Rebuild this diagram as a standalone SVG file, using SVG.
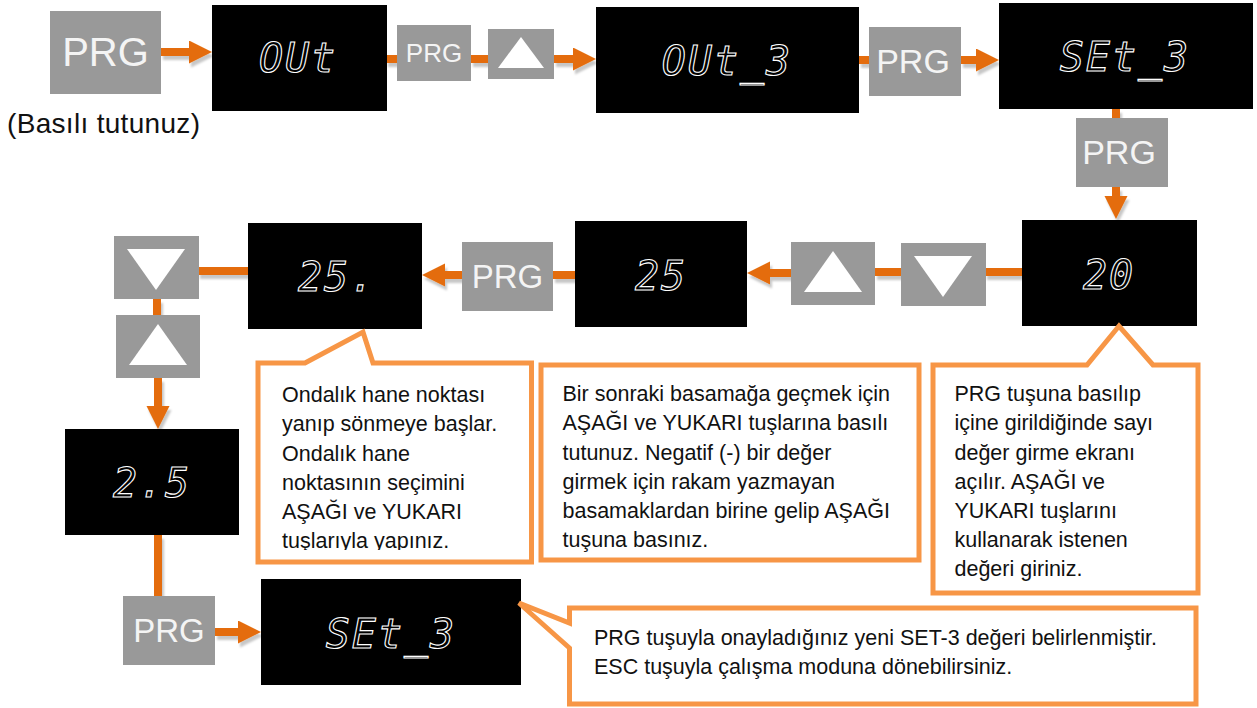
<svg xmlns="http://www.w3.org/2000/svg" width="1257" height="708" viewBox="0 0 1257 708">
<style>
.btn{fill:#999999}
.prg{font-family:"Liberation Sans",Arial,sans-serif;fill:#f4f4f4;text-anchor:middle}
.tri{fill:#ffffff}
.disp{fill:#000000}
.seg{font-family:"DejaVu Sans Mono",monospace;font-style:oblique;font-size:40px;fill:none;stroke:#ffffff;stroke-width:1.1;text-anchor:middle;letter-spacing:2px}
.con{fill:none;stroke:#E46C0A;stroke-width:8}
.call{fill:#ffffff;stroke:#F79646;stroke-width:5;stroke-linejoin:miter}
.ct{font-family:"Liberation Sans",Arial,sans-serif;font-size:21.5px;fill:#111111}
</style>
<defs>
<marker id="ah" markerUnits="userSpaceOnUse" markerWidth="24" markerHeight="24" refX="0" refY="11.5" orient="auto">
<path d="M0,0 L23,11.5 L0,23 Z" fill="#E46C0A"/>
</marker>
<filter id="sh" x="-20%" y="-20%" width="140%" height="160%">
<feDropShadow dx="2" dy="4" stdDeviation="1.2" flood-color="#000000" flood-opacity="0.22"/>
</filter>
<clipPath id="clip1"><rect x="258" y="363" width="274" height="187"/></clipPath>
</defs>

<g id="connectors" filter="url(#sh)">
<path class="con" d="M161,52 H189" marker-end="url(#ah)"/>
<path class="con" d="M386,59 H397"/>
<path class="con" d="M471,59 H488"/>
<path class="con" d="M554,59 H573" marker-end="url(#ah)"/>
<path class="con" d="M859,60 H869"/>
<path class="con" d="M961,60 H976" marker-end="url(#ah)"/>
<path class="con" d="M1116,109 V118"/>
<path class="con" d="M1116,187 V196" marker-end="url(#ah)"/>
<path class="con" d="M1022,272 H985"/>
<path class="con" d="M901,272 H875"/>
<path class="con" d="M791,273 H770" marker-end="url(#ah)"/>
<path class="con" d="M575,275 H553"/>
<path class="con" d="M462,275 H445" marker-end="url(#ah)"/>
<path class="con" d="M248,271 H198"/>
<path class="con" d="M157,299 V315"/>
<path class="con" d="M158,378 V406" marker-end="url(#ah)"/>
<path class="con" d="M158,535 V596"/>
<path class="con" d="M215,632 H238" marker-end="url(#ah)"/>
</g>

<g id="prg1"><rect class="btn" x="50" y="11" width="111" height="83"/><text class="prg" x="105.5" y="66" font-size="40">PRG</text></g>
<text id="hold" x="7" y="133" font-family="Liberation Sans,Arial,sans-serif" font-size="28" textLength="193" fill="#111111">(Basılı tutunuz)</text>
<g id="d-out"><rect class="disp" x="212" y="5" width="175" height="106"/><text class="seg" x="298" y="72">OUt</text></g>
<g id="prg2"><rect class="btn" x="397" y="25" width="74" height="56"/><text class="prg" x="434" y="62" font-size="26">PRG</text></g>
<g id="up1"><rect class="btn" x="488" y="29" width="66" height="50"/><polygon class="tri" points="521,37 544,68 498,68"/></g>
<g id="d-out3"><rect class="disp" x="596" y="7" width="263" height="106"/><text class="seg" x="727" y="75">OUt_3</text></g>
<g id="prg3"><rect class="btn" x="869" y="27" width="92" height="69"/><text class="prg" x="913" y="73" font-size="34">PRG</text></g>
<g id="d-set3a"><rect class="disp" x="999" y="3" width="254" height="106"/><text class="seg" x="1125" y="71">SEt_3</text></g>
<g id="prg4"><rect class="btn" x="1076" y="118" width="92" height="69"/><text class="prg" x="1119" y="163.5" font-size="34">PRG</text></g>
<g id="d-20"><rect class="disp" x="1022" y="220" width="175" height="106"/><text class="seg" x="1109" y="289">20</text></g>
<g id="down2"><rect class="btn" x="901" y="243" width="85" height="63"/><polygon class="tri" points="914,256 972,256 943,297"/></g>
<g id="up2"><rect class="btn" x="791" y="242" width="84" height="63"/><polygon class="tri" points="804,292 862,292 833,251"/></g>
<g id="d-25"><rect class="disp" x="575" y="221" width="172" height="106"/><text class="seg" x="661" y="290">25</text></g>
<g id="prg5"><rect class="btn" x="462" y="242" width="91" height="69"/><text class="prg" x="507.5" y="288" font-size="33">PRG</text></g>
<g id="d-25dot"><rect class="disp" x="248" y="223" width="174" height="106"/><text class="seg" x="337" y="291">25.</text></g>
<g id="down3"><rect class="btn" x="114" y="236" width="85" height="63"/><polygon class="tri" points="127,249 185,249 156,290"/></g>
<g id="up3"><rect class="btn" x="116" y="315" width="84" height="63"/><polygon class="tri" points="129,365 187,365 158,324"/></g>
<g id="d-2dot5"><rect class="disp" x="65" y="429" width="174" height="106"/><text class="seg" x="152" y="497">2.5</text></g>
<g id="prg6"><rect class="btn" x="123" y="596" width="92" height="69"/><text class="prg" x="169" y="642" font-size="33">PRG</text></g>
<g id="d-set3b"><rect class="disp" x="261" y="579" width="260" height="106"/><text class="seg" x="391" y="648">SEt_3</text></g>

<g id="callout1">
<path class="call" d="M258,363 H305 L363,332 L373,363 H531.5 V562 H258 Z"/>
<g clip-path="url(#clip1)">
<text class="ct" x="282" y="402">Ondalık hane noktası</text>
<text class="ct" x="282" y="431">yanıp sönmeye başlar.</text>
<text class="ct" x="282" y="460.5">Ondalık hane</text>
<text class="ct" x="282" y="490">noktasının seçimini</text>
<text class="ct" x="282" y="519">AŞAĞI ve YUKARI</text>
<text class="ct" x="282" y="548">tuşlarıyla yapınız.</text>
</g>
</g>
<g id="callout2">
<rect class="call" x="541" y="365" width="378" height="195"/>
<text class="ct" x="562.5" y="401">Bir sonraki basamağa geçmek için</text>
<text class="ct" x="562.5" y="430">AŞAĞI ve YUKARI tuşlarına basılı</text>
<text class="ct" x="562.5" y="459.5">tutunuz. Negatif (-) bir değer</text>
<text class="ct" x="562.5" y="489">girmek için rakam yazmayan</text>
<text class="ct" x="562.5" y="518">basamaklardan birine gelip AŞAĞI</text>
<text class="ct" x="562.5" y="547">tuşuna basınız.</text>
</g>
<g id="callout3">
<path class="call" d="M933,365 H1087 L1119,326 L1153,365 H1198 V593 H933 Z"/>
<text class="ct" x="954.5" y="401">PRG tuşuna basılıp</text>
<text class="ct" x="954.5" y="430">içine girildiğinde sayı</text>
<text class="ct" x="954.5" y="459.5">değer girme ekranı</text>
<text class="ct" x="954.5" y="489">açılır. AŞAĞI ve</text>
<text class="ct" x="954.5" y="518">YUKARI tuşlarını</text>
<text class="ct" x="954.5" y="547">kullanarak istenen</text>
<text class="ct" x="954.5" y="576">değeri giriniz.</text>
</g>
<g id="callout4">
<path class="call" d="M569.5,608 H1196 V704 H569.5 V648 L519,603 L569.5,623 Z"/>
<text class="ct" x="594" y="645">PRG tuşuyla onayladığınız yeni SET-3 değeri belirlenmiştir.</text>
<text class="ct" x="594" y="674">ESC tuşuyla çalışma moduna dönebilirsiniz.</text>
</g>
</svg>
